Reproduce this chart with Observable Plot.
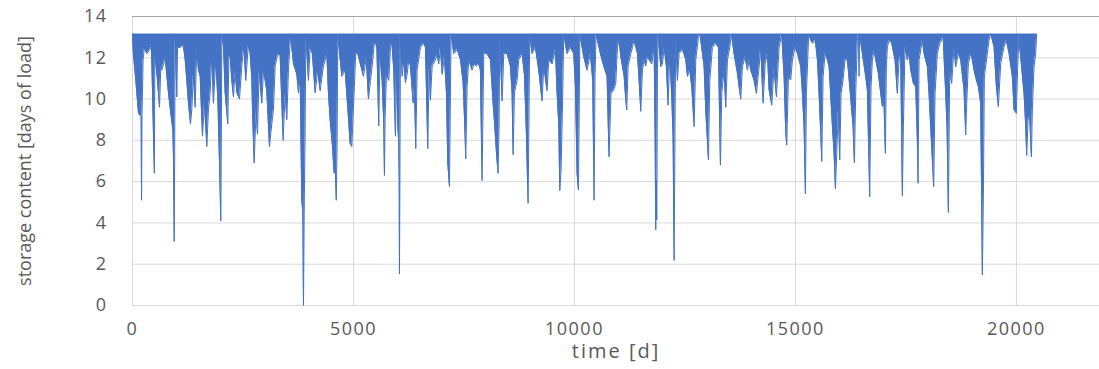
<!DOCTYPE html>
<html>
<head>
<meta charset="utf-8">
<script src="https://cdn.jsdelivr.net/npm/d3@7"></script>
<script src="https://cdn.jsdelivr.net/npm/@observablehq/plot@0.6"></script>
<style>
  html, body { margin: 0; padding: 0; background: #ffffff; }
  #chart { width: 1099px; height: 369px; }
</style>
</head>
<body>
<div id="chart"></div>
<script>
// Storage capacity (full level), read from the flat top of the series
const capacity = 13.15;

// Axis ticks and titles
const xTicks = [0, 5000, 10000, 15000, 20000];
const yTicks = [0, 2, 4, 6, 8, 10, 12, 14];
const xTitle = "time [d]";
const yTitle = "storage content [days of load]";

// [day, storage content] — lower envelope of the dense daily series
const series0to5k = [
  [0,13.15],[20,12.2],[75,10.9],[136,9.3],[196,9.15],[205,5.1],[215,9.2],[240,11.9],[271,12.5],[324,12.2],
  [430,12.5],[495,6.4],[505,12.2],[566,10.9],[611,9.6],[640,11.5],[664,11.4],[739,12.0],[814,10.3],[867,9.3],
  [913,8.5],[930,7.0],[943,3.1],[955,7.5],[965,13.15],[980,12.0],[1003,10.1],[1020,12.5],[1078,12.5],[1150,12.6],
  [1192,11.9],[1229,10.9],[1267,9.8],[1312,8.8],[1342,9.5],[1380,11.2],[1418,9.6],[1455,12.5],[1493,11.4],[1531,11.1],
  [1584,8.2],[1629,9.8],[1682,7.7],[1719,9.5],[1757,10.3],[1795,12.2],[1832,9.8],[1885,11.9],[1931,10.0],[1968,7.0],
  [1998,4.1],[2010,8.0],[2021,13.15],[2060,12.5],[2097,10.3],[2157,8.8],[2180,12.0],[2210,12.05],[2247,10.9],[2285,10.1],
  [2323,11.4],[2361,10.3],[2421,10.0],[2474,11.6],[2520,12.6],[2564,10.9],[2620,12.6],[2662,12.2],[2700,11.0],[2715,9.5],
  [2753,6.9],[2798,9.5],[2828,8.3],[2866,11.4],[2926,9.8],[2964,11.4],[3002,10.9],[3039,10.4],[3099,7.7],[3152,8.8],
  [3190,9.5],[3228,11.6],[3288,12.2],[3341,12.1],[3409,8.0],[3454,10.3],[3492,9.0],[3529,11.4],[3560,12.5],[3582,13.15],
  [3605,12.5],[3643,11.7],[3718,11.2],[3756,10.3],[3793,11.1],[3831,5.1],[3854,4.5],[3869,0.0],[3885,4.5],[3906,8.5],
  [3922,13.15],[3982,10.9],[4020,12.5],[4070,12.2],[4133,10.3],[4190,11.4],[4246,10.4],[4321,11.6],[4397,12.2],[4434,10.3],
  [4472,9.0],[4525,7.7],[4562,6.4],[4590,6.6],[4610,5.1],[4630,8.0],[4645,13.15],[4736,11.1],[4811,11.4],[4886,9.1],
  [4924,7.85],[4962,7.7],[4999,9.5],[5050,12.2],[5098,12.2],[5226,11.1],[5290,12.0],[5339,10.0]
];
const series5kto11k = [
  [5385,10.9],[5422,11.6],[5480,12.85],[5530,12.5],[5573,8.7],[5590,11.0],[5611,12.05],[5648,10.9],[5686,8.8],[5701,6.3],
  [5715,9.0],[5746,11.2],[5799,10.9],[5837,12.5],[5870,12.7],[5912,11.4],[5950,8.2],[5973,11.4],[6003,8.7],[6025,7.85],
  [6035,6.0],[6041,1.53],[6050,6.0],[6063,13.15],[6101,11.1],[6139,11.9],[6176,10.8],[6214,11.2],[6252,11.9],[6290,11.6],
  [6350,9.8],[6380,10.6],[6410,7.6],[6440,11.4],[6516,12.5],[6591,12.7],[6629,12.5],[6682,7.6],[6712,11.6],[6742,9.95],
  [6780,11.6],[6855,11.9],[6893,12.2],[6930,11.7],[6968,12.5],[7006,11.2],[7059,12.05],[7104,10.3],[7134,6.9],[7172,5.76],
  [7194,10.3],[7209,13.15],[7270,12.2],[7345,12.4],[7421,11.9],[7481,10.8],[7519,8.7],[7541,7.1],[7571,10.6],[7609,11.9],
  [7684,11.4],[7722,11.7],[7782,11.6],[7835,11.7],[7872,11.4],[7910,6.05],[7948,12.2],[8023,12.2],[8099,11.9],[8159,9.8],
  [8197,8.7],[8235,7.4],[8272,6.4],[8295,8.7],[8310,13.15],[8363,9.9],[8401,12.2],[8476,12.2],[8551,11.6],[8589,10.3],
  [8612,7.3],[8642,10.3],[8702,10.9],[8740,11.9],[8815,12.2],[8868,11.2],[8913,8.3],[8951,4.95],[8973,9.5],[8988,13.15],
  [9041,12.2],[9117,12.5],[9192,11.4],[9268,9.9],[9306,11.6],[9381,10.4],[9419,11.9],[9494,11.7],[9570,12.4],[9607,10.3],
  [9645,8.8],[9668,5.56],[9698,6.56],[9728,9.47],[9758,13.15],[9833,12.2],[9909,12.5],[9984,12.2],[10022,10.6],[10060,6.4],
  [10090,5.6],[10112,10.3],[10120,13.15],[10210,12.05],[10286,11.4],[10361,12.2],[10414,10.9],[10444,5.1],[10466,11.1],[10489,13.15],
  [10587,12.2],[10662,11.6],[10738,11.1],[10783,7.2],[10828,10.3]
];
const series11kto16k = [
  [10883,10.4],[10935,10.75],[10973,12.5],[11010,12.85],[11049,12.05],[11124,11.1],[11162,9.95],[11184,9.47],[11214,11.6],[11275,12.2],
  [11312,12.5],[11350,12.85],[11426,12.2],[11463,10.9],[11501,9.4],[11539,11.4],[11576,11.9],[11614,11.6],[11652,12.05],[11690,11.9],
  [11750,11.7],[11803,12.5],[11825,8.2],[11840,3.66],[11848,6.1],[11863,4.15],[11878,11.4],[11893,13.15],[11953,11.56],[11991,11.7],
  [12029,12.5],[12082,11.56],[12119,9.7],[12157,12.2],[12202,10.1],[12232,8.18],[12255,2.18],[12278,9.47],[12293,13.15],[12330,10.9],
  [12368,12.2],[12444,12.4],[12519,11.9],[12557,11.1],[12610,11.4],[12655,10.6],[12708,8.66],[12745,11.9],[12806,13.0],[12836,13.15],
  [12858,12.85],[12934,11.56],[12971,9.47],[13009,8.0],[13032,7.05],[13062,10.9],[13122,12.5],[13198,12.7],[13258,12.5],[13303,6.8],
  [13333,10.27],[13386,11.4],[13424,9.6],[13462,11.9],[13514,12.5],[13552,13.15],[13612,12.2],[13688,11.24],[13726,10.6],[13763,10.0],
  [13801,11.56],[13861,12.05],[13914,11.4],[13952,11.9],[13989,11.4],[14065,10.9],[14118,10.27],[14178,11.56],[14216,12.5],[14269,9.8],
  [14314,11.7],[14367,12.2],[14404,10.44],[14465,9.7],[14517,11.56],[14570,10.11],[14630,12.5],[14691,13.15],[14744,11.08],[14781,8.34],
  [14804,7.77],[14842,11.08],[14894,10.92],[14932,11.89],[14992,12.53],[15045,12.21],[15121,11.56],[15158,10.27],[15196,8.66],[15226,5.4],
  [15249,10.27],[15300,13.15],[15347,12.85],[15385,12.7],[15450,12.85],[15498,11.89],[15535,10.27],[15573,8.34],[15596,6.97],[15626,11.08],
  [15671,12.21],[15724,11.89],[15762,11.56],[15837,8.66],[15875,7.37],[15905,5.65],[15935,7.37],[15973,9.47],[16003,7.05],[16033,10.27],
  [16078,10.92],[16124,11.89],[16176,11.89],[16229,10.6],[16274,9.47],[16305,8.66],[16335,6.9]
];
const series16kto21k = [
  [16364,10.27],[16402,12.85],[16430,13.15],[16440,11.1],[16450,13.15],[16515,12.2],[16591,11.08],[16628,10.44],[16651,8.18],[16681,5.27],
  [16711,10.6],[16741,11.89],[16779,12.37],[16832,11.73],[16877,11.24],[16930,10.27],[16968,9.63],[17005,9.79],[17036,7.37],[17058,11.56],
  [17081,12.53],[17119,12.85],[17179,12.7],[17254,11.89],[17307,10.27],[17345,11.89],[17382,12.05],[17420,5.3],[17443,8.66],[17480,12.53],
  [17533,11.89],[17571,12.21],[17609,11.4],[17669,10.76],[17722,10.6],[17759,8.02],[17775,5.92],[17797,11.89],[17873,12.85],[17910,12.21],
  [17986,11.56],[18023,10.27],[18061,8.66],[18099,7.05],[18129,5.76],[18159,10.27],[18212,12.21],[18265,12.7],[18310,12.85],[18340,13.15],
  [18400,10.27],[18431,8.66],[18461,4.5],[18491,11.4],[18536,10.76],[18589,12.53],[18627,11.56],[18687,12.21],[18740,11.89],[18815,10.44],
  [18853,8.26],[18876,9.79],[18913,11.73],[18966,12.21],[19004,11.89],[19041,11.4],[19094,10.92],[19139,10.6],[19192,9.79],[19230,1.48],
  [19253,5.4],[19275,11.08],[19343,12.21],[19381,12.85],[19419,13.15],[19494,12.53],[19547,10.6],[19592,9.63],[19645,11.73],[19720,12.53],
  [19773,12.85],[19833,12.21],[19909,11.08],[19947,9.47],[19999,9.31],[20029,11.56],[20060,13.15],[20075,12.53],[20173,10.27],[20211,8.66],
  [20233,7.26],[20263,8.98],[20301,9.15],[20339,7.2],[20361,9.47],[20399,11.56],[20436,12.21],[20459,13.15]
];

const data = [...series0to5k, ...series5kto11k, ...series11kto16k, ...series16kto21k]
  .map(([day, value]) => ({day, value}));

const blue = "#4472C4";
const grid = "#d9d9d9";
const textColor = "#595959";

const svg = Plot.plot({
  width: 1099,
  height: 369,
  marginLeft: 132,
  marginRight: 0,
  marginTop: 16,
  marginBottom: 64,
  style: {fontFamily: "'Open Sans', sans-serif", fontSize: "18px", color: textColor, background: "#ffffff"},
  x: {domain: [0, 21880]},
  y: {domain: [0, 14]},
  marks: [
    Plot.ruleY(yTicks, {stroke: grid, strokeWidth: 1}),
    Plot.ruleX(xTicks, {stroke: grid, strokeWidth: 1}),
    Plot.ruleY([14], {stroke: "#a6a6a6", strokeWidth: 1}),
    Plot.areaY(data, {x: "day", y1: () => capacity, y2: "value", fill: blue, curve: "linear"}),
    Plot.lineY(data, {x: "day", y: "value", stroke: blue, strokeWidth: 1}),
    Plot.axisX({ticks: xTicks, tickSize: 0, tickPadding: 17, tickFormat: d => String(d), label: null, fill: textColor}),
    Plot.axisY({ticks: yTicks, tickSize: 0, tickPadding: 25, tickFormat: d => String(d), label: null, fill: textColor}),
    Plot.text([xTitle], {frameAnchor: "bottom", dy: 52, fontSize: 20, fill: textColor}),
    Plot.text([yTitle], {frameAnchor: "left", textAnchor: "middle", dx: -107, rotate: -90, fontSize: 18, fill: textColor})
  ]
});

d3.select(svg).selectAll("text").each(function() {
  const t = this.textContent;
  if (t === xTitle) d3.select(this).style("letter-spacing", "2px");
  else if (t !== yTitle) d3.select(this).style("letter-spacing", "1.5px");
});

document.getElementById("chart").appendChild(svg);
</script>
</body>
</html>
